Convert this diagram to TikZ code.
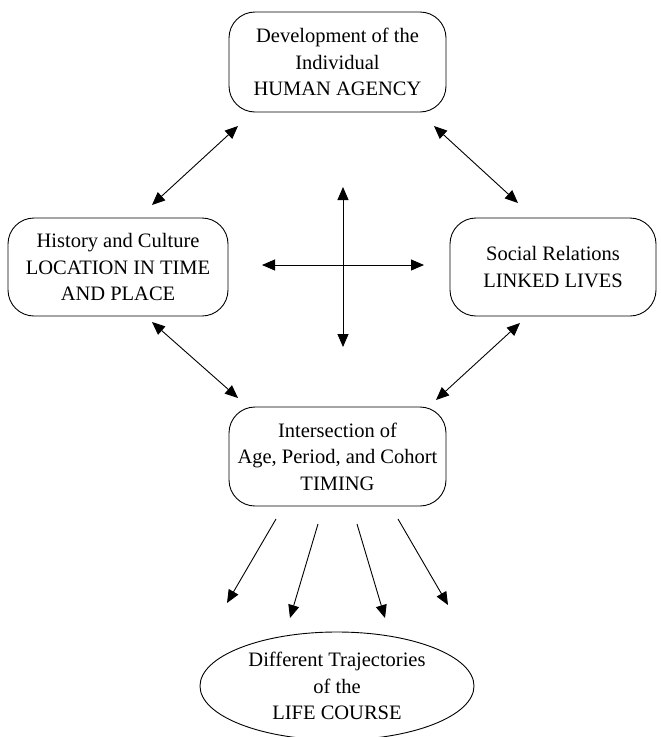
\documentclass[tikz,border=0pt]{standalone}
\usepackage{fontspec}
\setmainfont{Liberation Serif}
\usetikzlibrary{arrows.meta,shapes.geometric}
\begin{document}
\begin{tikzpicture}[x=1pt,y=-1pt,
  box/.style={draw,line width=0.9pt,rounded corners=26pt,align=center,inner sep=0pt,
    font=\fontsize{20.5}{26.5}\selectfont},
  oval/.style={draw,line width=0.9pt,ellipse,align=center,inner sep=0pt,
    font=\fontsize{20.5}{26.5}\selectfont},
  dbl/.style={line width=0.9pt,{Triangle[length=13pt,width=11pt]}-{Triangle[length=13pt,width=11pt]}},
  sgl/.style={line width=0.9pt,-{Triangle[length=13pt,width=11pt]}}]
\useasboundingbox (0,0) rectangle (661,737);
\node[box,minimum width=217pt,minimum height=100pt] (top) at (337.5,62) {Development of the\\Individual\\HUMAN AGENCY};
\node[box,minimum width=220pt,minimum height=98pt] (left) at (118,267) {History and Culture\\LOCATION IN TIME\\AND PLACE};
\node[box,minimum width=206pt,minimum height=98pt] (right) at (553,267) {Social Relations\\LINKED LIVES};
\node[box,minimum width=217pt,minimum height=99pt] (mid) at (337.5,456.5) {Intersection of\\Age, Period, and Cohort\\TIMING};
\node[oval,minimum width=274pt,minimum height=108pt] (life) at (337,686) {Different Trajectories\\of the\\LIFE COURSE};
% arrow end points
\coordinate (a1) at (238,126); \coordinate (a2) at (152,205);
\coordinate (b1) at (434,126); \coordinate (b2) at (518,203);
\coordinate (c1) at (152,322); \coordinate (c2) at (238,398);
\coordinate (d1) at (520,323); \coordinate (d2) at (436,400);
\coordinate (vt) at (343,187); \coordinate (vb) at (343,347);
\coordinate (hl) at (262,265); \coordinate (hr) at (424,265);
\coordinate (e1) at (276,519); \coordinate (e2) at (227,603);
\coordinate (f1) at (318,524); \coordinate (f2) at (290,618);
\coordinate (g1) at (357,524); \coordinate (g2) at (385,618);
\coordinate (h1) at (398,519); \coordinate (h2) at (448,605);
\draw[dbl] (a1) -- (a2);
\draw[dbl] (b1) -- (b2);
\draw[dbl] (c1) -- (c2);
\draw[dbl] (d1) -- (d2);
\draw[dbl] (vt) -- (vb);
\draw[dbl] (hl) -- (hr);
\draw[sgl] (e1) -- (e2);
\draw[sgl] (f1) -- (f2);
\draw[sgl] (g1) -- (g2);
\draw[sgl] (h1) -- (h2);
\end{tikzpicture}
\end{document}
